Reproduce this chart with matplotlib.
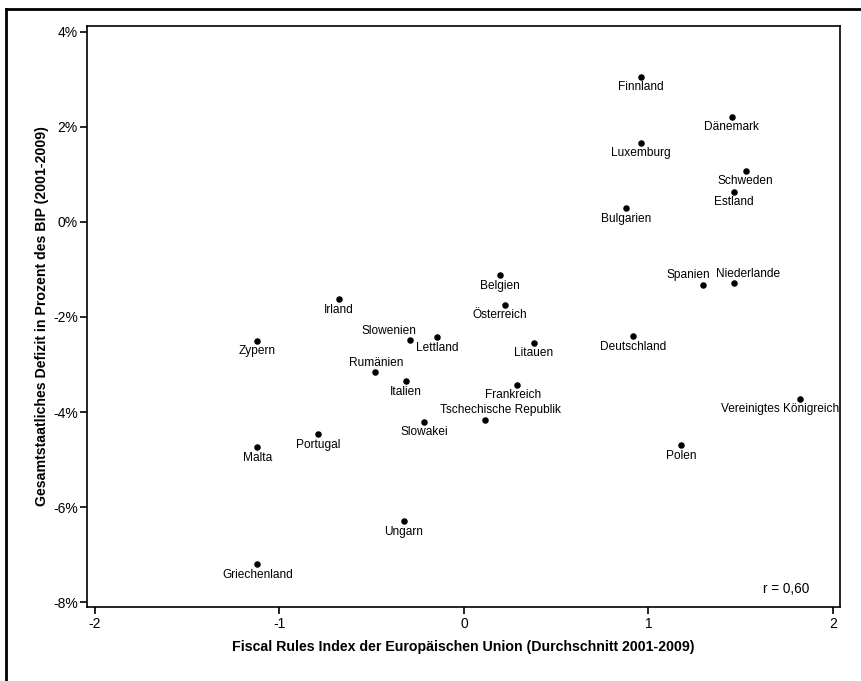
import matplotlib
matplotlib.use("Agg")
import matplotlib.pyplot as plt
from matplotlib.lines import Line2D

plt.rcParams['font.family'] = ['Liberation Sans', 'DejaVu Sans']
plt.rcParams['axes.unicode_minus'] = False

# Länder, Fiscal Rules Index (x) und Defizit in % des BIP (y)
laender = ["Finnland", "Dänemark", "Luxemburg", "Schweden", "Estland", "Bulgarien",
           "Spanien", "Niederlande", "Deutschland", "Vereinigtes Königreich", "Polen",
           "Irland", "Zypern", "Slowenien", "Rumänien", "Italien", "Portugal", "Malta",
           "Belgien", "Österreich", "Lettland", "Litauen", "Frankreich",
           "Tschechische Republik", "Slowakei", "Ungarn", "Griechenland"]
fri = [0.958, 1.450, 0.960, 1.526, 1.463, 0.879,
       1.294, 1.465, 0.917, 1.819, 1.176,
       -0.678, -1.119, -0.292, -0.480, -0.316, -0.789, -1.119,
       0.193, 0.222, -0.146, 0.377, 0.290,
       0.114, -0.215, -0.325, -1.119]
defizit = [3.06, 2.22, 1.67, 1.076, 0.633, 0.289,
           -1.336, -1.28, -2.405, -3.72, -4.70,
           -1.625, -2.496, -2.475, -3.15, -3.35, -4.47, -4.74,
           -1.118, -1.745, -2.426, -2.546, -3.44,
           -4.17, -4.20, -6.30, -7.21]

x_ticks = [-2, -1, 0, 1, 2]
y_ticks = [4, 2, 0, -2, -4, -6, -8]
r_text = "r = 0,60"

# Beschriftung standardmäßig unter dem Punkt, einige verschoben (Pixel)
versatz_std = (0, -10.5)
versatz = {
    "Slowenien": (-21, 9),
    "Rumänien": (1, 9),
    "Tschechische Republik": (16, 10),
    "Spanien": (-14, 10),
    "Niederlande": (13.5, 9),
    "Vereinigtes Königreich": (-20, -10.7),
    "Österreich": (-5, -10),
    "Frankreich": (-4, -10),
}

fig = plt.figure(figsize=(8.62, 6.81), dpi=100)
ax = fig.add_axes([87/862, 1 - 607/681, (840 - 87)/862, (607 - 26)/681])

ax.scatter(fri, defizit, s=22, color="black", zorder=3, linewidths=0)
for name, xv, yv in zip(laender, fri, defizit):
    dx, dy = versatz.get(name, versatz_std)
    ax.annotate(name, (xv, yv), xytext=(dx, dy), textcoords="offset pixels",
                ha="center", va="center", fontsize=8.6, color="black")

ax.text(786/862, 1 - 589/681, r_text, transform=fig.transFigure,
        ha="center", va="center", fontsize=9.8)

ax.set_xlim(-2.043, 2.038)
ax.set_ylim(-8.105, 4.126)
ax.set_xticks(x_ticks)
ax.set_xticklabels([str(t) for t in x_ticks])
ax.set_yticks(y_ticks)
ax.set_yticklabels([f"{t}%" for t in y_ticks])
ax.tick_params(direction="out", length=5, width=1.2, labelsize=10, pad=1.5)
ax.tick_params(axis="x", pad=2.5)
for sp in ax.spines.values():
    sp.set_linewidth(1.2)

ax.set_xlabel("Fiscal Rules Index der Europäischen Union (Durchschnitt 2001-2009)",
              fontsize=10.2, fontweight="bold", labelpad=6)
ax.set_ylabel("Gesamtstaatliches Defizit in Prozent des BIP (2001-2009)",
              fontsize=10.2, fontweight="bold", labelpad=3)

# Rahmenlinien oben und links
fig.add_artist(Line2D([6/862, 6/862], [0, 1 - 8.5/681], transform=fig.transFigure,
                      color="black", linewidth=2))
fig.add_artist(Line2D([6/862, 1], [1 - 8.5/681, 1 - 8.5/681], transform=fig.transFigure,
                      color="black", linewidth=2))

plt.savefig("out.png", dpi=100)
